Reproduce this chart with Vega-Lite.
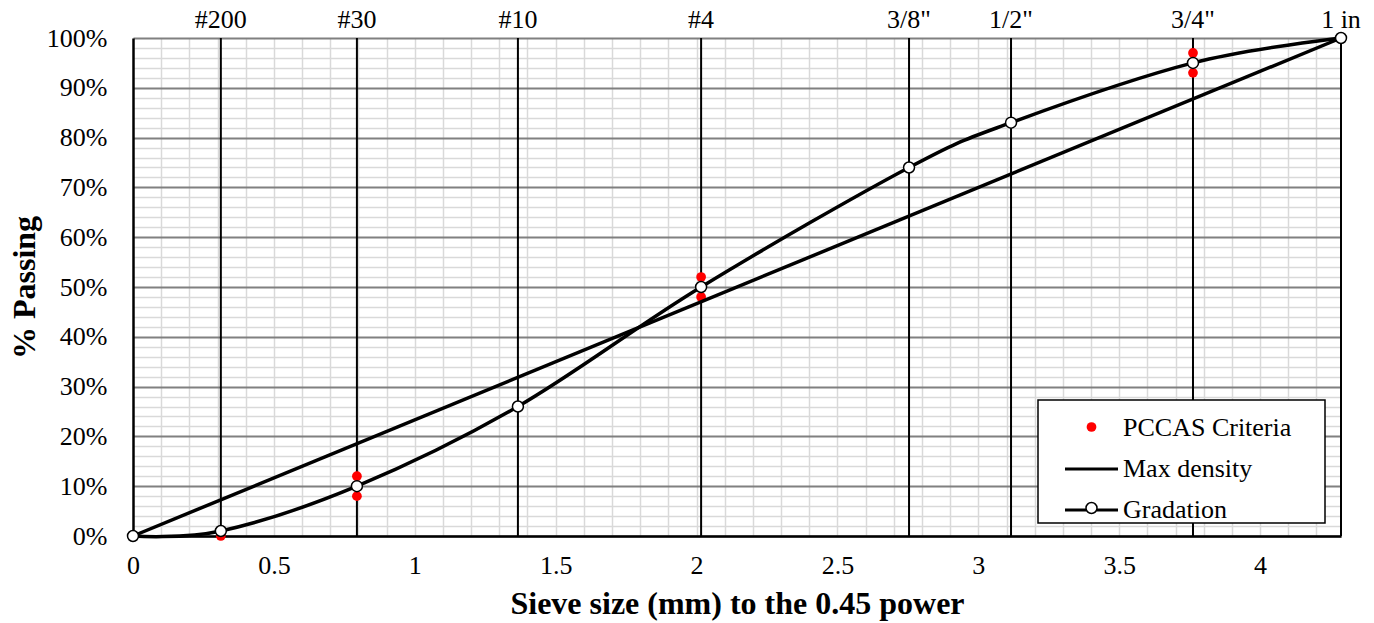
{
  "$schema": "https://vega.github.io/schema/vega-lite/v6.json",
  "width": 1208,
  "height": 498,
  "autosize": {"type": "none"},
  "padding": {"left": 133, "top": 38, "right": 33, "bottom": 87},
  "background": "white",
  "config": {
    "view": {"stroke": null},
    "font": "Liberation Serif",
    "legend": {"strokeWidth": 1.5},
    "axis": {
      "labelFont": "Liberation Serif",
      "titleFont": "Liberation Serif",
      "labelColor": "black",
      "titleColor": "black",
      "labelFontSize": 26,
      "titleFontSize": 32,
      "titleFontWeight": "bold",
      "labelOverlap": false
    }
  },
  "resolve": {"axis": {"x": "independent", "y": "independent"}},
  "datasets": {
    "sieves": [
      {"sieve": "#200", "x": 0.31173},
      {"sieve": "#30", "x": 0.79466},
      {"sieve": "#10", "x": 1.36604},
      {"sieve": "#4", "x": 2.01616},
      {"sieve": "3/8\"", "x": 2.7541},
      {"sieve": "1/2\"", "x": 3.11604},
      {"sieve": "3/4\"", "x": 3.76183},
      {"sieve": "1 in", "x": 4.28709}
    ],
    "gradation": [
      {"series": "Gradation", "x": 0, "y": 0},
      {"series": "Gradation", "x": 0.31173, "y": 1},
      {"series": "Gradation", "x": 0.79466, "y": 10},
      {"series": "Gradation", "x": 1.36604, "y": 26},
      {"series": "Gradation", "x": 2.01616, "y": 50},
      {"series": "Gradation", "x": 2.7541, "y": 74},
      {"series": "Gradation", "x": 3.11604, "y": 83},
      {"series": "Gradation", "x": 3.76183, "y": 95},
      {"series": "Gradation", "x": 4.28709, "y": 100}
    ],
    "maxdensity": [
      {"series": "Max density", "x": 0, "y": 0},
      {"series": "Max density", "x": 4.28709, "y": 100}
    ],
    "pccas": [
      {"series": "PCCAS Criteria", "x": 0.31173, "y": 0},
      {"series": "PCCAS Criteria", "x": 0.79466, "y": 8},
      {"series": "PCCAS Criteria", "x": 0.79466, "y": 12},
      {"series": "PCCAS Criteria", "x": 2.01616, "y": 48},
      {"series": "PCCAS Criteria", "x": 2.01616, "y": 52},
      {"series": "PCCAS Criteria", "x": 3.76183, "y": 93},
      {"series": "PCCAS Criteria", "x": 3.76183, "y": 97}
    ]
  },
  "layer": [
    {
      "data": {"name": "sieves"},
      "mark": {"type": "rule", "color": "black", "strokeWidth": 2},
      "encoding": {
        "x": {
          "field": "x",
          "type": "quantitative",
          "scale": {"domain": [0, 4.28709], "nice": false, "zero": false},
          "axis": {
            "orient": "bottom",
            "values": [0, 0.5, 1, 1.5, 2, 2.5, 3, 3.5, 4],
            "labelExpr": "datum.value + ''",
            "labelFlush": false,
            "ticks": false,
            "tickSize": 0,
            "labelPadding": 16,
            "grid": false,
            "domain": true,
            "domainColor": "black",
            "domainWidth": 2.5,
            "title": "Sieve size (mm) to the 0.45 power",
            "titlePadding": 10
          }
        }
      }
    },
    {
      "data": {"name": "sieves"},
      "mark": {"type": "text", "fontSize": 26, "font": "Liberation Serif", "baseline": "alphabetic", "dy": -10, "color": "black"},
      "encoding": {
        "x": {"field": "x", "type": "quantitative", "axis": null},
        "y": {"datum": 100, "type": "quantitative", "axis": null},
        "text": {"field": "sieve"}
      }
    },
    {
      "data": {"name": "pccas"},
      "mark": {"type": "point", "filled": true, "size": 95, "opacity": 1, "shape": "circle"},
      "encoding": {
        "x": {"field": "x", "type": "quantitative", "axis": null},
        "y": {
          "field": "y",
          "type": "quantitative",
          "scale": {"domain": [0, 100], "nice": false},
          "axis": {
            "orient": "left",
            "values": [0, 10, 20, 30, 40, 50, 60, 70, 80, 90, 100],
            "labelExpr": "datum.value + '%'",
            "labelFlush": false,
            "ticks": false,
            "tickSize": 0,
            "labelPadding": 26,
            "grid": true,
            "gridColor": "#808080",
            "gridWidth": 2,
            "domain": true,
            "domainColor": "black",
            "domainWidth": 2.5,
            "title": "% Passing",
            "titlePadding": 5
          }
        },
        "fill": {
          "field": "series",
          "type": "nominal",
          "scale": {"domain": ["PCCAS Criteria"], "range": ["red"]},
          "legend": {
            "orient": "none",
            "legendX": 953.5,
            "legendY": 384,
            "title": null,
            "padding": 0,
            "symbolOffset": 0,
            "symbolType": "circle",
            "symbolSize": 95,
            "symbolStrokeWidth": 0,
            "symbolOpacity": 1,
            "labelFontSize": 1,
            "labelExpr": "''",
            "zindex": 3
          }
        }
      }
    },
    {
      "data": {"name": "maxdensity"},
      "mark": {"type": "line", "strokeWidth": 3.5},
      "encoding": {
        "x": {
          "field": "x",
          "type": "quantitative",
          "axis": {
            "orient": "top",
            "values": [0.1, 0.2, 0.3, 0.4, 0.5, 0.6, 0.7, 0.8, 0.9, 1, 1.1, 1.2, 1.3, 1.4, 1.5, 1.6, 1.7, 1.8, 1.9, 2, 2.1, 2.2, 2.3, 2.4, 2.5, 2.6, 2.7, 2.8, 2.9, 3, 3.1, 3.2, 3.3, 3.4, 3.5, 3.6, 3.7, 3.8, 3.9, 4, 4.1, 4.2],
            "labels": false,
            "ticks": false,
            "domain": false,
            "title": null,
            "grid": true,
            "gridColor": "#d9d9d9",
            "gridWidth": 1.5
          }
        },
        "y": {
          "field": "y",
          "type": "quantitative",
          "axis": {
            "orient": "right",
            "values": [2, 4, 6, 8, 12, 14, 16, 18, 22, 24, 26, 28, 32, 34, 36, 38, 42, 44, 46, 48, 52, 54, 56, 58, 62, 64, 66, 68, 72, 74, 76, 78, 82, 84, 86, 88, 92, 94, 96, 98],
            "labels": false,
            "ticks": false,
            "domain": false,
            "title": null,
            "grid": true,
            "gridColor": "#d9d9d9",
            "gridWidth": 1.5
          }
        },
        "stroke": {
          "field": "series",
          "type": "nominal",
          "scale": {"domain": ["PCCAS Criteria", "Max density", "Gradation"], "range": ["transparent", "black", "black"]},
          "legend": {
            "orient": "none",
            "legendX": 905,
            "legendY": 362,
            "title": "PCCAS",
            "titleOrient": "right",
            "titleColor": "transparent",
            "titleFontSize": 10,
            "titlePadding": 0,
            "direction": "vertical",
            "strokeColor": "black",
            "fillColor": "white",
            "padding": 0,
            "labelFont": "Liberation Serif",
            "labelFontSize": 26,
            "labelColor": "black",
            "labelLimit": 400,
            "labelOffset": 3.5,
            "rowPadding": -1,
            "symbolOffset": 25.5,
            "symbolType": "stroke",
            "symbolSize": 2809,
            "symbolStrokeWidth": 3,
            "symbolOpacity": 1,
            "zindex": 1
          }
        }
      }
    },
    {
      "data": {"name": "gradation"},
      "mark": {"type": "line", "strokeWidth": 3.5, "interpolate": "cardinal"},
      "encoding": {
        "x": {"field": "x", "type": "quantitative", "axis": null},
        "y": {"field": "y", "type": "quantitative", "axis": null},
        "stroke": {"field": "series", "type": "nominal"}
      }
    },
    {
      "data": {"name": "gradation"},
      "mark": {"type": "point", "filled": true, "stroke": "black", "strokeWidth": 1.5, "size": 120, "opacity": 1, "shape": "circle"},
      "encoding": {
        "x": {"field": "x", "type": "quantitative", "axis": null},
        "y": {"field": "y", "type": "quantitative", "axis": null},
        "color": {
          "field": "series",
          "type": "nominal",
          "scale": {"domain": ["Gradation"], "range": ["white"]},
          "legend": {
            "orient": "none",
            "legendX": 952,
            "legendY": 463.5,
            "title": null,
            "padding": 0,
            "symbolOffset": 0,
            "symbolType": "circle",
            "symbolSize": 120,
            "symbolStrokeColor": "black",
            "symbolStrokeWidth": 1.5,
            "symbolOpacity": 1,
            "labelFontSize": 1,
            "labelExpr": "''",
            "zindex": 3
          }
        }
      }
    }
  ]
}
